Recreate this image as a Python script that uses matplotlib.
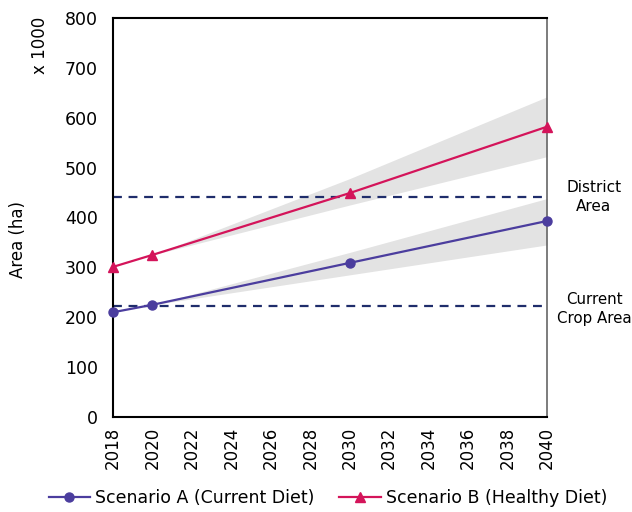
import matplotlib
matplotlib.use("Agg")
import matplotlib.pyplot as plt

years = [2018, 2020, 2030, 2040]
scenario_a = [210, 225, 309, 393]
scenario_b = [301, 325, 449, 582]

band_years = [2020, 2030, 2040]
a_low = [225, 285, 345]
a_high = [225, 330, 438]
b_low = [325, 425, 522]
b_high = [325, 478, 642]

district_area = 442
crop_area = 222

xticks = list(range(2018, 2041, 2))
yticks = list(range(0, 801, 100))

col_a = "#4b3d9e"
col_b = "#d4145a"
col_ref = "#1f2d6b"

fig = plt.figure(figsize=(6.32, 5.12), dpi=100)
ax = fig.add_axes([113 / 632, 95 / 512, 434 / 632, 399 / 512])

ax.fill_between(band_years, a_low, a_high, color="#e3e3e3", lw=0)
ax.fill_between(band_years, b_low, b_high, color="#e3e3e3", lw=0)

ax.axhline(district_area, color=col_ref, ls=(0, (4, 3)), lw=1.6)
ax.axhline(crop_area, color=col_ref, ls=(0, (4, 3)), lw=1.6)

ax.plot(years, scenario_a, color=col_a, lw=1.6, marker="o", ms=6.5,
        label="Scenario A (Current Diet)", clip_on=False, zorder=5)
ax.plot(years, scenario_b, color=col_b, lw=1.6, marker="^", ms=6.5,
        label="Scenario B (Healthy Diet)", clip_on=False, zorder=5)

ax.set_xlim(2018, 2040)
ax.set_ylim(0, 800)
ax.set_xticks(xticks)
ax.set_yticks(yticks)
ax.tick_params(length=0, labelsize=12.5)
ax.tick_params(axis="y", pad=11)
ax.tick_params(axis="x", labelrotation=90, labelsize=12, pad=7)
for s in ["left", "top", "bottom"]:
    ax.spines[s].set_linewidth(1.5)
ax.spines["right"].set_color("#666666")
ax.spines["right"].set_linewidth(1.2)

fig.text(18 / 632, 1 - 240 / 512, "Area (ha)", rotation=90, ha="center", va="center", fontsize=12)
fig.text(40 / 632, 1 - 45 / 512, "x 1000", rotation=90, ha="center", va="center", fontsize=12)
fig.text(594 / 632, 1 - 197 / 512, "District\nArea", ha="center", va="center", fontsize=11, linespacing=1.3)
fig.text(594 / 632, 1 - 309 / 512, "Current\nCrop Area", ha="center", va="center", fontsize=10.8, linespacing=1.3)

fig.legend(loc="center", bbox_to_anchor=(328 / 632, 1 - 498 / 512), ncol=2, frameon=False,
           fontsize=12.5, handlelength=2.4, handletextpad=0.3, columnspacing=1.4)

fig.savefig("out.png", dpi=100)
